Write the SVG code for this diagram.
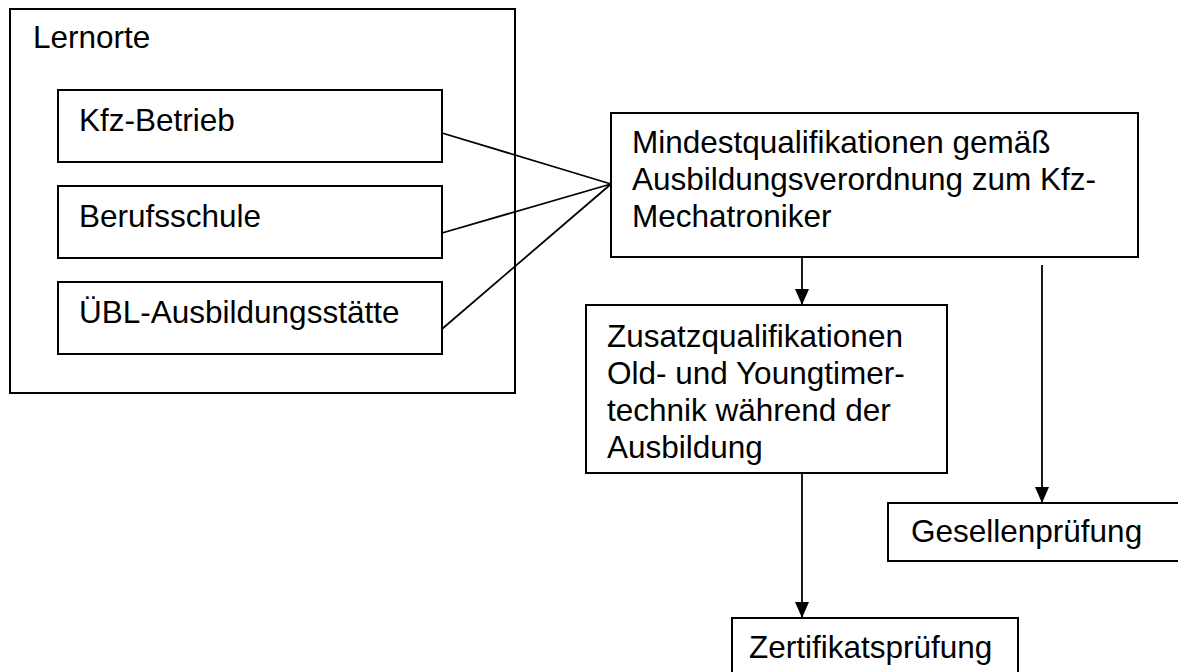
<svg xmlns="http://www.w3.org/2000/svg" width="1178" height="672" viewBox="0 0 1178 672">
<style>
.box{fill:#fff;stroke:#000;stroke-width:2}
.t{font-family:"Liberation Sans",Arial,sans-serif;font-size:31.5px;fill:#000}
.c{stroke:#000;stroke-width:1.8;fill:none}
</style>
<defs>
<marker id="arr" markerUnits="userSpaceOnUse" markerWidth="16" markerHeight="14" refX="16" refY="7" orient="auto">
<path d="M0,0 L16,7 L0,14 z" fill="#000"/>
</marker>
</defs>
<rect width="1178" height="672" fill="#fff"/>
<g id="lernorte">
<rect class="box" x="10" y="9" width="505" height="384"/>
<text class="t" x="33" y="48">Lernorte</text>
</g>
<g id="kfz-betrieb">
<rect class="box" x="58" y="90" width="384" height="72"/>
<text class="t" x="79" y="131">Kfz-Betrieb</text>
</g>
<g id="berufsschule">
<rect class="box" x="58" y="186" width="384" height="72"/>
<text class="t" x="79" y="227">Berufsschule</text>
</g>
<g id="uebl">
<rect class="box" x="58" y="282" width="384" height="72"/>
<text class="t" x="79" y="323">ÜBL-Ausbildungsstätte</text>
</g>
<g id="mindest">
<rect class="box" x="611" y="113" width="527" height="144"/>
<text class="t" x="632" y="153">Mindestqualifikationen gemäß</text>
<text class="t" x="632" y="190">Ausbildungsverordnung zum Kfz-</text>
<text class="t" x="632" y="227">Mechatroniker</text>
</g>
<g id="zusatz">
<rect class="box" x="586" y="305" width="361" height="168"/>
<text class="t" x="607" y="347">Zusatzqualifikationen</text>
<text class="t" x="607" y="384">Old- und Youngtimer-</text>
<text class="t" x="607" y="421">technik während der</text>
<text class="t" x="607" y="458">Ausbildung</text>
</g>
<g id="gesellen">
<rect class="box" x="888" y="503" width="300" height="58"/>
<text class="t" x="911" y="542">Gesellenprüfung</text>
</g>
<g id="zertifikat">
<rect class="box" x="732" y="618" width="286" height="70"/>
<text class="t" x="749" y="658">Zertifikatsprüfung</text>
</g>
<g id="connectors">
<line class="c" x1="442" y1="133" x2="611" y2="184"/>
<line class="c" x1="442" y1="233" x2="611" y2="184"/>
<line class="c" x1="442" y1="329" x2="611" y2="184"/>
<line class="c" x1="802" y1="257" x2="802" y2="305" marker-end="url(#arr)"/>
<line class="c" x1="1042" y1="265" x2="1042" y2="503" marker-end="url(#arr)"/>
<line class="c" x1="802" y1="473" x2="802" y2="618" marker-end="url(#arr)"/>
</g>
</svg>
